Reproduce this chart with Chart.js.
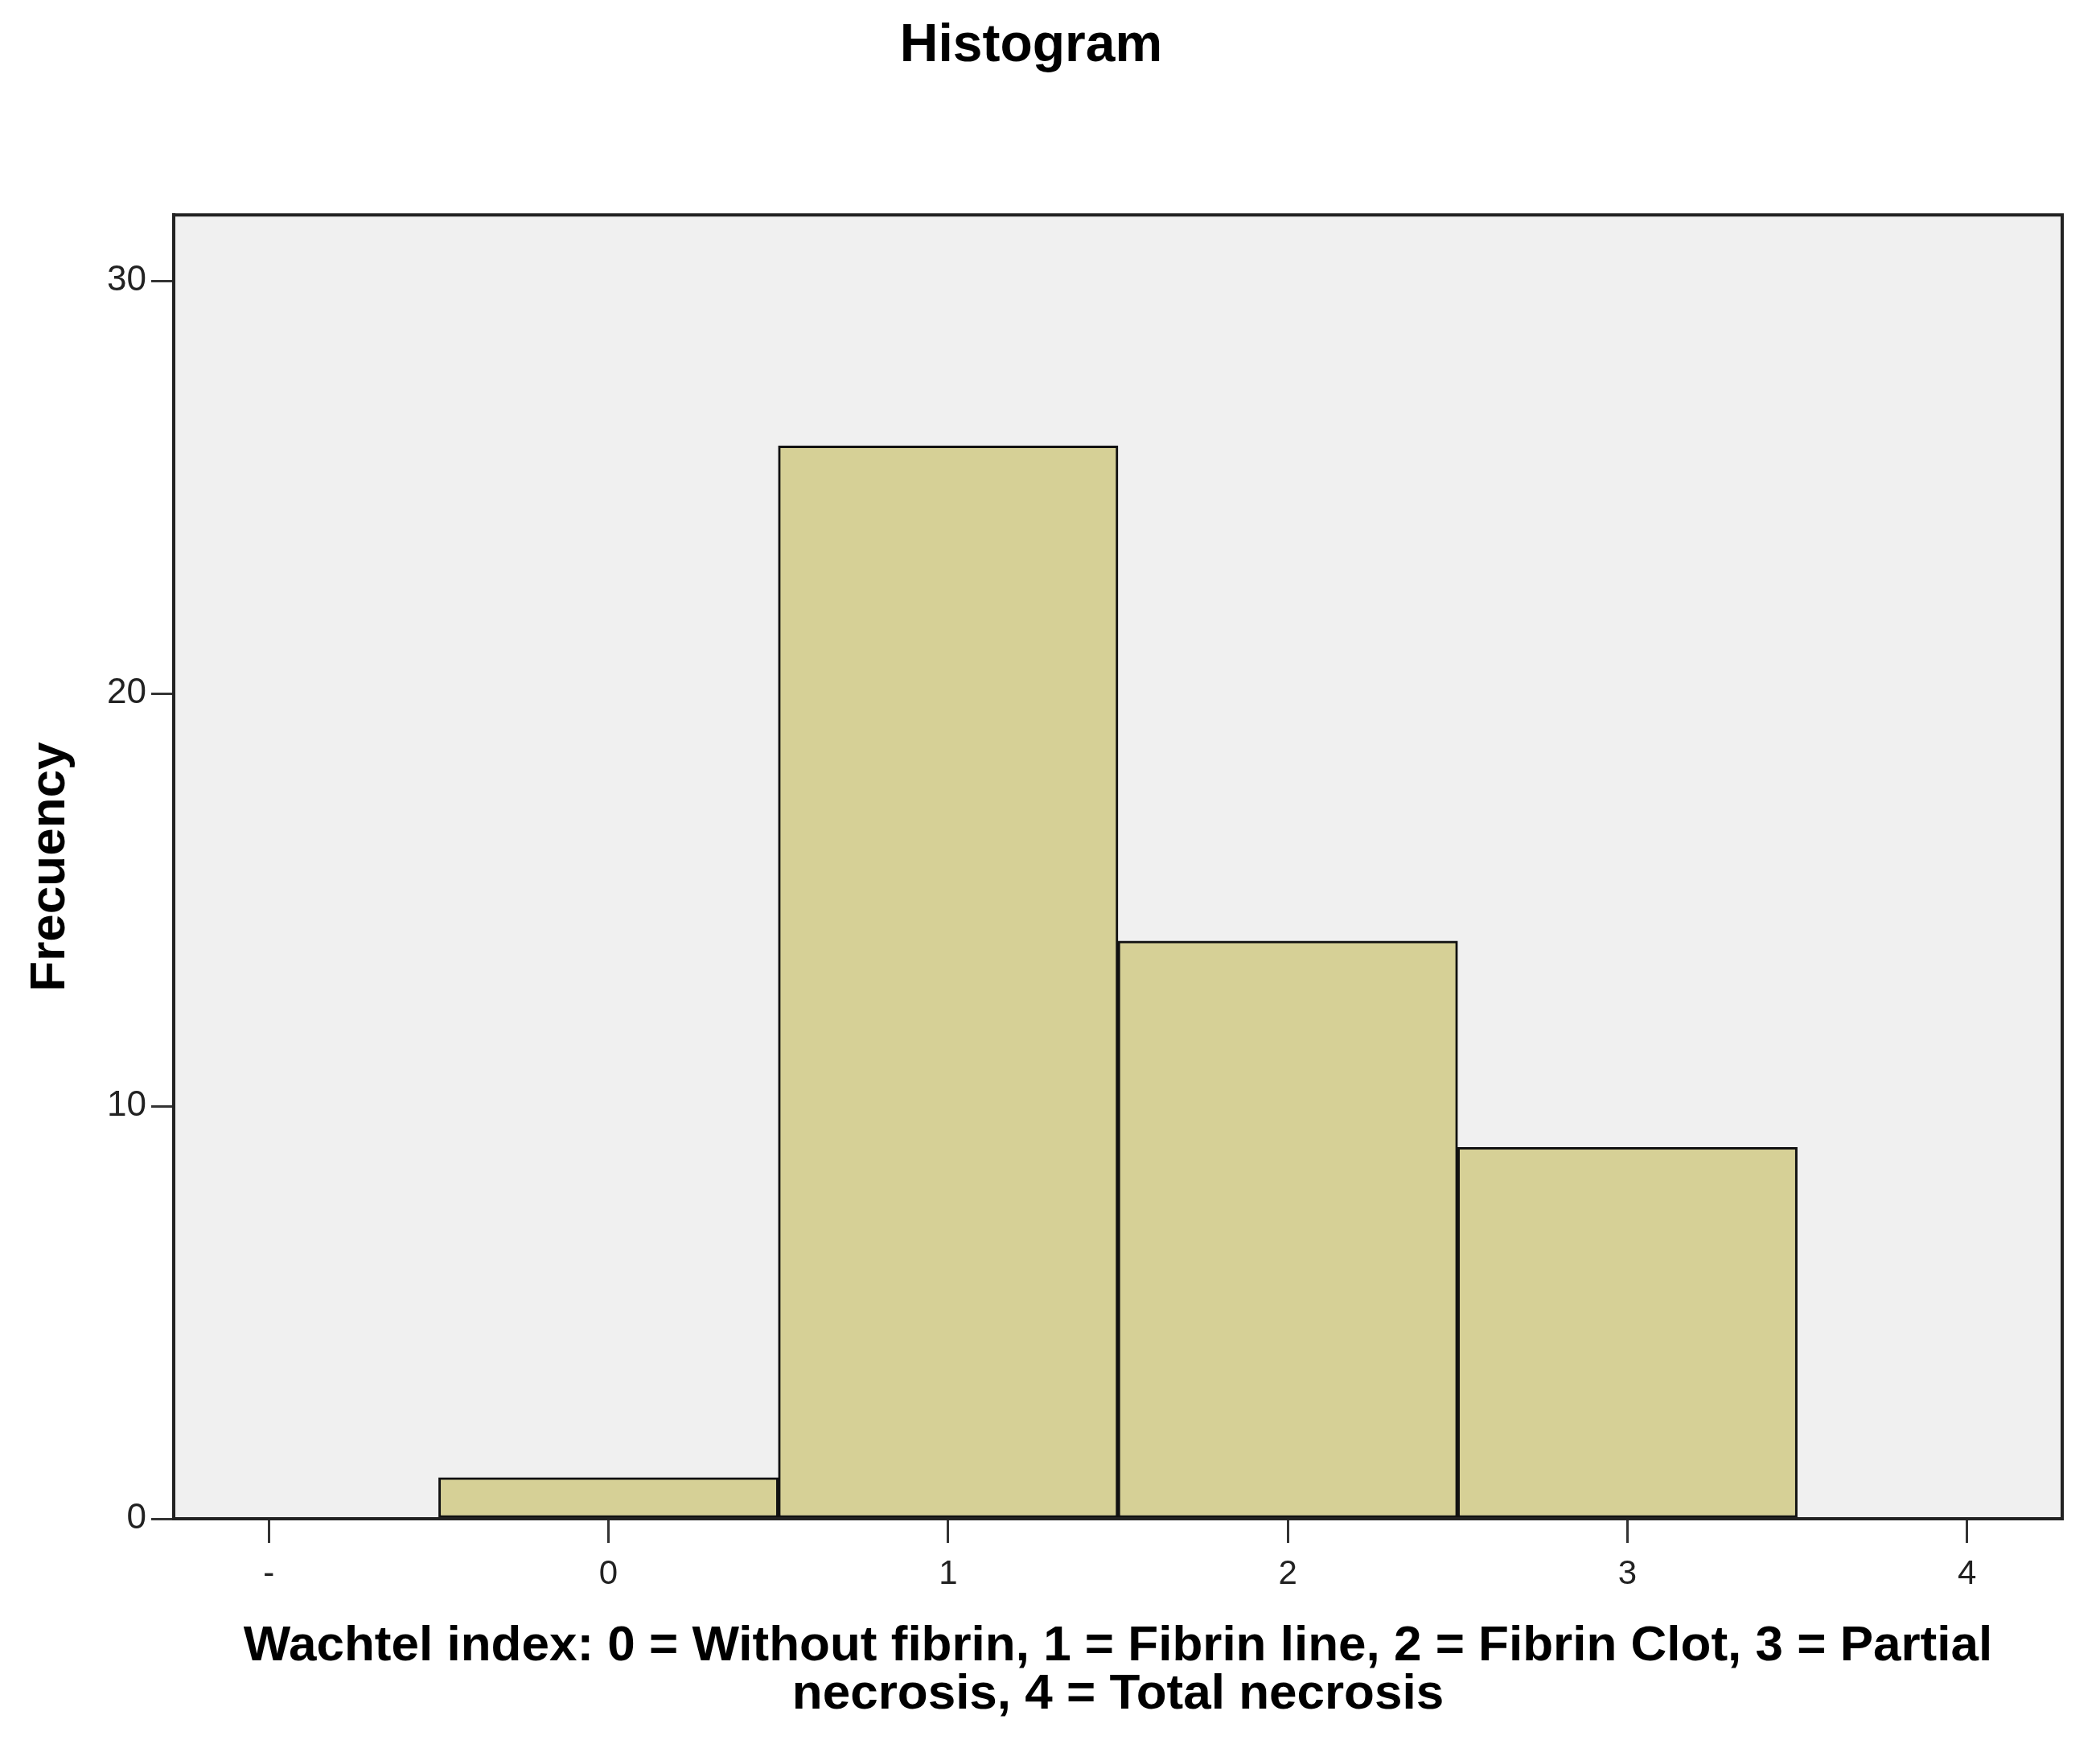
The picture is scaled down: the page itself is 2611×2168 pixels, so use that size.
<!DOCTYPE html>
<html>
<head>
<meta charset="utf-8">
<script src="https://cdn.jsdelivr.net/npm/chart.js@4/dist/chart.umd.min.js"></script>
<style>
  html, body { margin: 0; padding: 0; background: #fff; }
</style>
</head>
<body>
<canvas id="histo" width="2611" height="2168"></canvas>
<script>
// histogram bins (centre of each bin) and counts
const binCenters = [0, 1, 2, 3];
const frequencies = [1, 26, 14, 9];

const xTickValues = [-1, 0, 1, 2, 3, 4];
const xTickLabels = ['-', '0', '1', '2', '3', '4'];
const yTickValues = [0, 10, 20, 30];

const chartTitle = 'Histogram';
const yTitle = 'Frecuency';
const xTitle = [
  'Wachtel index: 0 = Without fibrin, 1 = Fibrin line, 2 = Fibrin Clot, 3 = Partial',
  'necrosis, 4 = Total necrosis'
];

const sans = '"Liberation Sans", Arial, sans-serif';

// grey plot background + frame round the plot area
const plotFrame = {
  id: 'plotFrame',
  beforeDraw(chart) {
    const ctx = chart.ctx;
    const a = chart.chartArea;
    ctx.save();
    ctx.fillStyle = '#ffffff';
    ctx.fillRect(0, 0, chart.width, chart.height);
    ctx.fillStyle = '#f0f0f0';
    ctx.fillRect(a.left, a.top, a.right - a.left, a.bottom - a.top);
    ctx.restore();
  },
  afterDatasetsDraw(chart) {
    const ctx = chart.ctx;
    const a = chart.chartArea;
    ctx.save();
    ctx.strokeStyle = '#222';
    ctx.lineWidth = 4;
    ctx.strokeRect(a.left, a.top, a.right - a.left, a.bottom - a.top);
    ctx.restore();
  }
};

function init() {
  const ctx = document.getElementById('histo').getContext('2d');
  new Chart(ctx, {
    type: 'bar',
    data: {
      datasets: [{
        label: 'Frecuency',
        data: binCenters.map((x, i) => ({ x: x, y: frequencies[i] })),
        backgroundColor: 'rgb(214, 208, 150)',
        borderColor: '#111',
        borderWidth: 3,
        borderSkipped: false,
        barPercentage: 1,
        categoryPercentage: 1
      }]
    },
    options: {
      responsive: false,
      animation: false,
      devicePixelRatio: 1,
      layout: { padding: { left: 0, top: 0, right: 47, bottom: 0 } },
      plugins: {
        legend: { display: false },
        tooltip: { enabled: false },
        title: {
          display: true,
          text: chartTitle,
          color: '#000',
          font: { family: sans, size: 66, weight: 'bold' },
          padding: { top: 18, bottom: 170 }
        }
      },
      scales: {
        x: {
          type: 'linear',
          min: -1.28,
          max: 4.28,
          offset: false,
          afterBuildTicks: (scale) => { scale.ticks = xTickValues.map(v => ({ value: v })); },
          afterFit: (scale) => { scale.height = 280; },
          ticks: {
            color: '#222',
            font: { family: sans, size: 42 },
            padding: 14,
            maxRotation: 0,
            callback: (value) => xTickLabels[xTickValues.indexOf(value)]
          },
          grid: { offset: false, drawOnChartArea: false, drawTicks: true, tickLength: 30, color: '#333', lineWidth: 3 },
          border: { display: true, color: '#222', width: 4 },
          title: {
            display: true,
            text: xTitle,
            color: '#000',
            font: { family: sans, size: 62, weight: 'bold', lineHeight: '60px' },
            padding: { top: 0, bottom: 31 }
          }
        },
        y: {
          min: 0,
          max: 31.6,
          afterBuildTicks: (scale) => { scale.ticks = yTickValues.map(v => ({ value: v })); },
          afterFit: (scale) => { scale.width = 216; },
          ticks: {
            color: '#222',
            font: { family: sans, size: 44 },
            padding: 6
          },
          grid: { drawOnChartArea: false, drawTicks: true, tickLength: 28, color: '#333', lineWidth: 3 },
          border: { display: true, color: '#222', width: 4 },
          title: {
            display: true,
            text: yTitle,
            color: '#000',
            font: { family: sans, size: 62, weight: 'bold' },
            padding: { top: 26, bottom: 0 }
          }
        }
      }
    },
    plugins: [plotFrame]
  });
}

init();
</script>
</body>
</html>
